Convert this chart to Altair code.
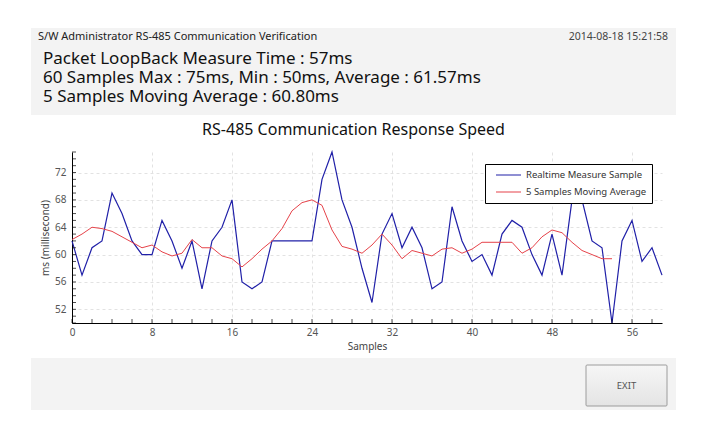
import altair as alt
import pandas as pd

# ---------------- data ----------------
samples = list(range(60))
realtime = [62, 57, 61, 62, 69, 66, 62, 60, 60, 65,
            62, 58, 62, 55, 62, 64, 68, 56, 55, 56,
            62, 62, 62, 62, 62, 71, 75, 68, 64, 58,
            53, 63, 66, 61, 64, 61, 55, 56, 67, 62,
            59, 60, 57, 63, 65, 64, 60, 57, 63, 57,
            68, 68, 62, 61, 50, 62, 65, 59, 61, 57]
moving_avg = [62.2, 63.0, 64.0, 63.8, 63.4, 62.6, 61.8, 61.0, 61.4, 60.4,
              59.8, 60.2, 62.2, 61.0, 61.0, 59.8, 59.4, 58.2, 59.4, 60.8,
              62.0, 63.8, 66.4, 67.6, 68.0, 67.2, 63.6, 61.2, 60.8, 60.2,
              61.4, 63.0, 61.4, 59.4, 60.6, 60.2, 59.8, 60.8, 61.0, 60.2,
              60.8, 61.8, 61.8, 61.8, 61.8, 60.2, 61.0, 62.6, 63.6, 63.2,
              61.8, 60.6, 60.0, 59.4, 59.4]
series_names = ["Realtime Measure Sample", "5 Samples Moving Average"]
x_major = [0, 8, 16, 24, 32, 40, 48, 56]
y_major = [52, 56, 60, 64, 68, 72]
x_minor = list(range(0, 60, 2))
y_minor = list(range(50, 76))
x_domain = [0, 59]
y_domain = [50, 75]

header_title = "S/W Administrator RS-485 Communication Verification"
timestamp = "2014-08-18 15:21:58"
info_lines = ["Packet LoopBack Measure Time : 57ms",
              "60 Samples Max : 75ms, Min : 50ms, Average : 61.57ms",
              "5 Samples Moving Average : 60.80ms"]
chart_title = "RS-485 Communication Response Speed"
x_title = "Samples"
y_title = "ms (millisecond)"
button_label = "EXIT"

rows = [{"sample": s, "ms": v, "series": series_names[0]} for s, v in zip(samples, realtime)]
rows += [{"sample": s, "ms": v, "series": series_names[1]} for s, v in zip(samples, moving_avg)]
df = pd.DataFrame(rows)

# ---------------- styling ----------------
W, H = 590, 171
FONT = "Noto Sans"
series_colors = ["#2020a8", "#e6434a"]

xs = alt.Scale(domain=x_domain, nice=False, zero=False)
ys = alt.Scale(domain=y_domain, nice=False, zero=False)
cs = alt.Scale(domain=series_names, range=series_colors)

x_axis = alt.Axis(values=x_major, grid=True, gridColor="#e2e2e2", gridDash=[3, 3],
                  ticks=False, domainColor="black", domainWidth=1, labelFlush=False,
                  labelFont=FONT, labelFontSize=10, labelColor="#555", labelPadding=4,
                  title=x_title, titleFont=FONT, titleFontSize=10, titleFontWeight="normal",
                  titleColor="#444", titlePadding=4)
y_axis = alt.Axis(values=y_major, grid=True, gridColor="#e2e2e2", gridDash=[3, 3],
                  ticks=False, domainColor="black", domainWidth=1, labelFlush=False,
                  labelFont=FONT, labelFontSize=10, labelColor="#555", labelPadding=6,
                  title=y_title, titleFont=FONT, titleFontSize=10, titleFontWeight="normal",
                  titleColor="#444", titlePadding=4)
legend = alt.Legend(title=None, orient="none", legendX=413, legendY=12, direction="vertical",
                    symbolType="stroke", symbolSize=625, symbolStrokeWidth=1.2, symbolOffset=5,
                    clipHeight=12,
                    labelFont=FONT, labelFontSize=9.5, labelColor="#333", labelOffset=4,
                    strokeColor="black", fillColor="white", padding=5, rowPadding=5,
                    labelLimit=300)

one = alt.Data(values=[{}])


def panel(x1, x2, y1, y2, **kw):
    return alt.Chart(one).mark_rect(**kw).encode(
        x=alt.value(x1), x2=alt.value(x2), y=alt.value(y1), y2=alt.value(y2))


def label(text, x, y, size, color, align="left", angle=0):
    return alt.Chart(alt.Data(values=[{"t": text}])).mark_text(
        align=align, baseline="middle", font=FONT, fontSize=size, color=color,
        angle=angle).encode(x=alt.value(x), y=alt.value(y), text="t:N")


top_panel = panel(-41, 604, -124, -37, color="#f3f3f3")
bottom_panel = panel(-41, 604, 206, 258, color="#f3f3f3")
button = panel(514, 595, 213, 254,
               fill=alt.LinearGradient(gradient="linear", x1=0, y1=0, x2=0, y2=1,
                                       stops=[alt.GradientStop(color="#f6f6f6", offset=0),
                                              alt.GradientStop(color="#e4e4e4", offset=1)]),
               stroke="#9c9c9c", strokeWidth=1, cornerRadius=1)

texts = [
    label(header_title, -34, -115, 11, "#222"),
    label(timestamp, 596, -115, 10.5, "#444", align="right"),
    label(info_lines[0], -29, -93, 17, "#111"),
    label(info_lines[1], -29, -74, 17, "#111"),
    label(info_lines[2], -29, -55, 17, "#111"),
    label(chart_title, 281.5, -22, 16, "#111", align="center"),
    label(button_label, 554.5, 233.5, 9.5, "#555", align="center"),
]

blue = alt.Chart(df).transform_filter(alt.datum.series == series_names[0]).mark_line(
    strokeWidth=1.2).encode(
    x=alt.X("sample:Q", scale=xs, axis=x_axis),
    y=alt.Y("ms:Q", scale=ys, axis=y_axis),
    color=alt.Color("series:N", scale=cs, legend=legend))
red = alt.Chart(df).transform_filter(alt.datum.series == series_names[1]).mark_line(
    strokeWidth=1.0).encode(
    x=alt.X("sample:Q", scale=xs, axis=x_axis),
    y=alt.Y("ms:Q", scale=ys, axis=y_axis),
    color=alt.Color("series:N", scale=cs, legend=legend))

x_ticks = alt.Chart(pd.DataFrame({"sample": x_minor})).mark_tick(
    orient="vertical", size=4, thickness=1, color="black", yOffset=-2).encode(
    x=alt.X("sample:Q", scale=xs, axis=x_axis),
    y=alt.YDatum(y_domain[0], type="quantitative", scale=ys, axis=y_axis))
y_ticks = alt.Chart(pd.DataFrame({"ms": y_minor})).mark_tick(
    orient="horizontal", size=4, thickness=1, color="black", xOffset=2).encode(
    y=alt.Y("ms:Q", scale=ys, axis=y_axis),
    x=alt.XDatum(x_domain[0], type="quantitative", scale=xs, axis=x_axis))

chart = alt.layer(blue, red, x_ticks, y_ticks, top_panel, bottom_panel, button, *texts).properties(
    width=W, height=H,
    autosize=alt.AutoSizeParams(type="none"),
    padding={"left": 64, "top": 144, "right": 30, "bottom": 87},
    background="white",
).configure_view(stroke=None)

chart.save("out.html", embed_options={"renderer": "svg", "actions": False})
